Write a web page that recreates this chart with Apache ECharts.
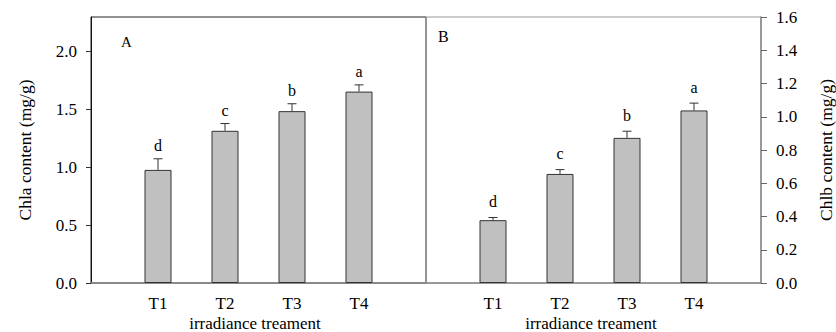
<!DOCTYPE html>
<html>
<head>
<meta charset="utf-8">
<script src="https://cdn.jsdelivr.net/npm/echarts@6/dist/echarts.min.js"></script>
<style>html,body{margin:0;padding:0;background:#fff}#c{width:836px;height:332px}</style>
</head>
<body>
<div id="c"></div>
<script>
var categories = ['', 'T1', 'T2', 'T3', 'T4', ''];
var chlaValues = [null, 0.978, 1.316, 1.486, 1.655, null];
var chlaErrors = [null, 0.096, 0.063, 0.064, 0.058, null];
var chlaLetters = ['', 'd', 'c', 'b', 'a', ''];
var chlbValues = [null, 0.378, 0.656, 0.873, 1.038, null];
var chlbErrors = [null, 0.016, 0.026, 0.040, 0.044, null];
var chlbLetters = ['', 'd', 'c', 'b', 'a', ''];
var chlaTicks = [0, 0.5, 1.0, 1.5, 2.0];
var chlbTicks = [0, 0.2, 0.4, 0.6, 0.8, 1.0, 1.2, 1.4, 1.6];

var FONT = '"Liberation Serif", "Times New Roman", serif';

function errSeries(xi, vals, errs, letters, gap) {
  var data = [];
  for (var i = 0; i < vals.length; i++) {
    if (vals[i] != null) data.push([i, vals[i], errs[i], letters[i]]);
  }
  return {
    type: 'custom',
    xAxisIndex: xi, yAxisIndex: xi,
    data: data,
    z: 5,
    renderItem: function (params, api) {
      var x = api.value(0), v = api.value(1), e = api.value(2);
      var p0 = api.coord([x, v]);
      var p1 = api.coord([x, v + e]);
      var cap = 4.5;
      return {
        type: 'group',
        children: [
          {type: 'line', shape: {x1: p0[0], y1: p0[1], x2: p1[0], y2: p1[1]}, style: {stroke: '#333', lineWidth: 1}},
          {type: 'line', shape: {x1: p1[0] - cap, y1: p1[1], x2: p1[0] + cap, y2: p1[1]}, style: {stroke: '#333', lineWidth: 1}},
          {type: 'text', x: p1[0], y: p1[1] - gap, style: {text: letters[x], fill: '#000', font: '16px ' + FONT, align: 'center', verticalAlign: 'bottom'}}
        ]
      };
    }
  };
}

var chart = echarts.init(document.getElementById('c'), null, {renderer: 'svg'});
var xAxisCommon = {
  type: 'category', data: categories, boundaryGap: false,
  axisTick: {show: false},
  axisLine: {lineStyle: {color: '#888', width: 1.5}},
  axisLabel: {color: '#000', fontFamily: FONT, fontSize: 17, margin: 12, interval: 0},
  splitLine: {show: false}
};
chart.setOption({
  animation: false,
  textStyle: {fontFamily: FONT},
  grid: [
    {left: 91, right: 410, top: 17, bottom: 49, show: true, borderColor: '#222', borderWidth: 1, backgroundColor: 'transparent'},
    {left: 426, right: 73, top: 17, bottom: 49, show: true, borderColor: '#999', borderWidth: 1, backgroundColor: 'transparent'}
  ],
  xAxis: [
    Object.assign({gridIndex: 0}, xAxisCommon),
    Object.assign({gridIndex: 1}, xAxisCommon)
  ],
  yAxis: [
    {
      gridIndex: 0, type: 'value', min: 0, max: 2.3, position: 'left',
      name: 'Chla content (mg/g)', nameLocation: 'middle', nameRotate: 90, nameGap: 57,
      nameTextStyle: {color: '#000', fontFamily: FONT, fontSize: 17.5},
      axisLine: {show: true, lineStyle: {color: '#111', width: 1}},
      axisTick: {show: true, inside: false, length: 5, customValues: chlaTicks, lineStyle: {color: '#333'}},
      axisLabel: {color: '#000', fontFamily: FONT, fontSize: 17, margin: 14, customValues: chlaTicks, formatter: function (v) { return v.toFixed(1); }},
      splitLine: {show: false}
    },
    {
      gridIndex: 1, type: 'value', min: 0, max: 1.6, interval: 0.2, position: 'right',
      name: 'Chlb content (mg/g)', nameLocation: 'middle', nameRotate: 90, nameGap: 56,
      nameTextStyle: {color: '#000', fontFamily: FONT, fontSize: 17.5},
      axisLine: {show: true, lineStyle: {color: '#888', width: 1.5}},
      axisTick: {show: true, inside: false, length: 6, customValues: chlbTicks, lineStyle: {color: '#666'}},
      axisLabel: {color: '#000', fontFamily: FONT, fontSize: 17, margin: 15, customValues: chlbTicks, formatter: function (v) { return v.toFixed(1); }},
      splitLine: {show: false}
    }
  ],
  series: [
    {type: 'bar', xAxisIndex: 0, yAxisIndex: 0, data: chlaValues, barWidth: 27,
     itemStyle: {color: '#c0c0c0', borderColor: '#333', borderWidth: 1}},
    {type: 'bar', xAxisIndex: 1, yAxisIndex: 1, data: chlbValues, barWidth: 27,
     itemStyle: {color: '#c0c0c0', borderColor: '#333', borderWidth: 1}},
    errSeries(0, chlaValues, chlaErrors, chlaLetters, 5),
    errSeries(1, chlbValues, chlbErrors, chlbLetters, 8)
  ],
  graphic: [
    {type: 'text', left: 121, top: 34, style: {text: 'A', fill: '#000', font: '15px ' + FONT}},
    {type: 'text', left: 438, top: 28, style: {text: 'B', fill: '#000', font: '16px ' + FONT}},
    {type: 'text', x: 255, y: 331.5, style: {text: 'irradiance treament', fill: '#000', font: '17px ' + FONT, align: 'center', verticalAlign: 'bottom'}},
    {type: 'text', x: 591, y: 331.5, style: {text: 'irradiance treament', fill: '#000', font: '17px ' + FONT, align: 'center', verticalAlign: 'bottom'}}
  ]
});
</script>
</body>
</html>
